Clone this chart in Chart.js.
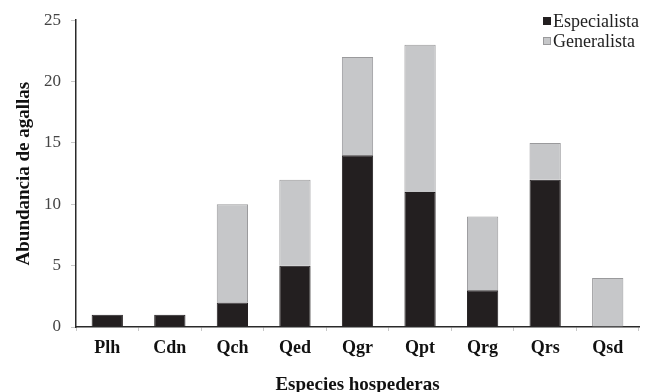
<!DOCTYPE html>
<html>
<head>
<meta charset="utf-8">
<script src="https://cdn.jsdelivr.net/npm/chart.js"></script>
<style>
    html, body { margin: 0; padding: 0; background: #fff; }
    #chart { display: block; }
</style>
</head>
<body>
<canvas id="chart" width="646" height="392"></canvas>
<script>
// Host species (x categories)
const hostSpecies = ["Plh", "Cdn", "Qch", "Qed", "Qgr", "Qpt", "Qrg", "Qrs", "Qsd"];

// Gall abundance per group
const specialist = [1, 1, 2, 5, 14, 11, 3, 12, 0];
const generalist = [0, 0, 8, 7, 8, 12, 6, 3, 4];

// Y axis ticks
const yMin = 0;
const yMax = 25;
const yStep = 5;

const serif = "'Liberation Serif', 'Times New Roman', serif";

// Small legend in the top right corner, built from the datasets
const cornerLegend = {
    id: "cornerLegend",
    afterDraw(chart) {
        const ctx = chart.ctx;
        ctx.save();
        ctx.font = "18px " + serif;
        ctx.textBaseline = "middle";
        ctx.textAlign = "left";
        chart.data.datasets.forEach((ds, i) => {
            const y = 21 + i * 20;
            ctx.fillStyle = ds.backgroundColor;
            ctx.fillRect(543, y - 4, 8, 8);
            ctx.strokeStyle = ds.borderColor;
            ctx.lineWidth = 1;
            ctx.strokeRect(543.5, y - 3.5, 7, 7);
            ctx.fillStyle = "#222";
            ctx.fillText(ds.label, 553, y + 1);
        });
        ctx.restore();
    },
};

new Chart(document.getElementById("chart"), {
    type: "bar",
    data: {
        labels: hostSpecies,
        datasets: [
            {
                label: "Especialista",
                data: specialist,
                backgroundColor: "#231f20",
                borderColor: "#231f20",
                borderWidth: 1,
                barPercentage: 0.5,
                categoryPercentage: 1,
            },
            {
                label: "Generalista",
                data: generalist,
                backgroundColor: "#c6c7c9",
                borderColor: "#9a9a9c",
                borderWidth: 1,
                barPercentage: 0.5,
                categoryPercentage: 1,
            },
        ],
    },
    options: {
        responsive: false,
        animation: false,
        layout: { padding: { top: 19, right: 7, left: 0, bottom: 0 } },
        plugins: {
            legend: { display: false },
            tooltip: { enabled: false },
        },
        scales: {
            x: {
                stacked: true,
                afterFit: scale => { scale.height = 65; },
                grid: {
                    offset: true,
                    drawOnChartArea: false,
                    drawTicks: true,
                    tickLength: 4,
                    color: "#c8c8c8",
                },
                border: { display: true, color: "#2a2a2a", width: 1.5 },
                ticks: {
                    color: "#111",
                    padding: 7,
                    font: { family: serif, size: 18, weight: "bold" },
                },
                title: {
                    display: true,
                    text: "Especies hospederas",
                    color: "#111",
                    padding: { top: 0, bottom: -3 },
                    font: { family: serif, size: 19, weight: "bold", lineHeight: 1 },
                },
            },
            y: {
                stacked: true,
                min: yMin,
                max: yMax,
                afterFit: scale => { scale.width = 76; },
                grid: {
                    drawOnChartArea: false,
                    drawTicks: true,
                    tickLength: 5,
                    color: "#c8c8c8",
                },
                border: { display: true, color: "#2a2a2a", width: 1.5 },
                ticks: {
                    stepSize: yStep,
                    color: "#444",
                    padding: 10,
                    font: { family: serif, size: 17 },
                },
                title: {
                    display: true,
                    text: "Abundancia de agallas",
                    color: "#111",
                    padding: { top: 15, bottom: 0 },
                    font: { family: serif, size: 19, weight: "bold", lineHeight: 1 },
                },
            },
        },
    },
    plugins: [cornerLegend],
});
</script>
</body>
</html>
